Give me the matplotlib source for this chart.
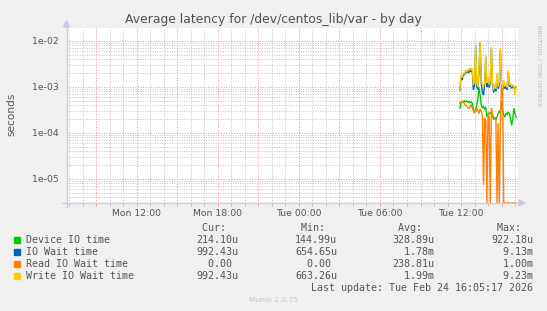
import matplotlib
matplotlib.use("Agg")
import matplotlib.pyplot as plt
import matplotlib.dates as mdates
import matplotlib.ticker as mticker
from matplotlib.lines import Line2D
from matplotlib.patches import Polygon, Rectangle
from datetime import datetime, timedelta
import numpy as np

# ---------------------------------------------------------------- data
step_start = datetime(2026, 2, 24, 11, 55)
n_steps = 51
times = [step_start + timedelta(minutes=5 * i) for i in range(n_steps)]

device_io = [3.4e-4, 4.6e-4, 4.8e-4, 4.5e-4, 5.0e-4, 4.7e-4, 4.9e-4, 4.6e-4, 4.8e-4, 4.5e-4,
             4.7e-4, 4.4e-4, 3.3e-4, 2.7e-4, 3.0e-4, 4.2e-4, 5.5e-4, 9.2218e-4, 6.5e-4, 4.0e-4,
             3.4e-4, 3.8e-4, 3.2e-4, 3.6e-4, 2.2e-4, 2.5e-4, 2.7e-4, 2.6e-4, 2.8e-4, 2.4e-4,
             1.9e-4, 2.2e-4, 1.9e-4, 2.2e-4, 2.6e-4, 3.0e-4, 2.7e-4, 4.7e-4, 3.0e-4, 2.4e-4,
             2.2e-4, 2.7e-4, 2.5e-4, 2.8e-4, 2.6e-4, 2.0e-4, 1.4499e-4, 2.0e-4, 3.4e-4, 2.6e-4,
             2.141e-4]

io_wait = [8.3e-4, 1.7e-3, 1.4e-3, 1.9e-3, 1.8e-3, 2.1e-3, 2.0e-3, 2.2e-3, 2.0e-3, 2.4e-3,
           2.1e-3, 2.3e-3, 8.5e-4, 1.1e-3, 7.6e-3, 1.0e-3, 8.8e-4, 2.2e-3, 9.13e-3, 1.2e-3,
           7.3e-4, 6.5465e-4, 1.1e-3, 4.5e-3, 1.0e-3, 1.4e-3, 9.5e-4, 1.2e-3, 6.8e-3, 1.1e-3,
           7.5e-4, 9.5e-4, 8.0e-4, 1.8e-3, 9.0e-4, 1.1e-3, 6.3e-3, 1.0e-3, 8.5e-4, 1.2e-3,
           9.0e-4, 1.1e-3, 8.5e-4, 2.1e-3, 1.0e-3, 1.1e-3, 9.2e-4, 1.0e-3, 9.6e-4, 9.0e-4,
           9.9243e-4]

read_io_wait = [4.4e-4, 4.8e-4, 4.6e-4, 4.9e-4, 4.2e-4, 4.0e-4, 3.9e-4, 3.5e-4, 3.4e-4, 3.6e-4,
                4.1e-4, 3.5e-4, 3.0e-4, 2.7e-4, 2.9e-4, 3.4e-4, 3.1e-4, 2.6e-4, 3.3e-4, 3.0e-4,
                2.4e-4, 7.3e-6, 2.1e-4, 1.8e-4, 0.0, 2.7e-4, 2.2e-4, 0.0, 3.4e-4, 2.5e-4,
                2.0e-4, 2.1e-4, 2.1e-4, 0.0, 1.6e-4, 0.0, 1.5e-4, 1.0e-3, 8.0e-4, 0.0,
                0.0, 0.0, 0.0, 0.0, 0.0, 0.0, 0.0, 0.0, 0.0, 0.0,
                0.0]

write_io_wait = [8.5e-4, 1.8e-3, 1.6e-3, 2.0e-3, 1.9e-3, 2.3e-3, 2.1e-3, 2.4e-3, 2.2e-3, 2.6e-3,
                 2.3e-3, 2.5e-3, 1.1e-3, 1.3e-3, 8.1e-3, 1.2e-3, 1.0e-3, 2.5e-3, 9.23e-3, 1.4e-3,
                 1.1e-3, 1.0e-3, 1.3e-3, 4.9e-3, 1.2e-3, 1.6e-3, 1.1e-3, 1.4e-3, 7.4e-3, 1.3e-3,
                 8.5e-4, 1.1e-3, 9.0e-4, 2.0e-3, 1.0e-3, 1.3e-3, 6.9e-3, 1.2e-3, 9.5e-4, 1.4e-3,
                 1.0e-3, 1.2e-3, 9.5e-4, 2.3e-3, 1.1e-3, 1.2e-3, 1.0e-3, 1.1e-3, 1.05e-3, 6.6326e-4,
                 9.9243e-4]

series_names = ["Device IO time", "IO Wait time", "Read IO Wait time", "Write IO Wait time"]
series_colors = ["#00CC00", "#0066B3", "#FF8000", "#FFCC00"]
series_values = [device_io, io_wait, read_io_wait, write_io_wait]

stat_cur = ["214.10u", "992.43u", "  0.00 ", "992.43u"]
stat_min = ["144.99u", "654.65u", "  0.00 ", "663.26u"]
stat_avg = ["328.89u", "  1.78m", "238.81u", "  1.99m"]
stat_max = ["922.18u", "  9.13m", "  1.00m", "  9.23m"]

y_ticks = [1e-5, 1e-4, 1e-3, 1e-2]
y_tick_labels = ["1e-05", "1e-04", "1e-03", "1e-02"]

title = "Average latency for /dev/centos_lib/var - by day"
last_update = "Last update: Tue Feb 24 16:05:17 2026"

# ---------------------------------------------------------------- layout
W, H = 547, 311
BG = "#F0F0F0"
TXT = "#555555"
MAJ = "#EE9C9C"
MIN = "#C4C4C4"
AXIS = "#C8C8F0"

def fx(x):
    return x / W

def fy(y):
    return 1 - y / H

fig = plt.figure(figsize=(W / 100, H / 100), dpi=100, facecolor=BG)
px_l, px_r, px_t, px_b = 66.5, 517.5, 28, 203
ax = fig.add_axes([fx(px_l), fy(px_b), fx(px_r) - fx(px_l), fy(px_t) - fy(px_b)])
ax.set_facecolor("white")
for s in ax.spines.values():
    s.set_visible(False)

ymin, ymax = 2.97e-6, 1.89e-2
ax.set_yscale("log")
ax.set_ylim(ymin, ymax)
ax.set_xlim(datetime(2026, 2, 23, 6, 47), datetime(2026, 2, 24, 16, 11))

# grid
ax.xaxis.set_major_locator(mdates.HourLocator(byhour=range(0, 24, 3)))
ax.xaxis.set_minor_locator(mdates.HourLocator())
ax.xaxis.set_major_formatter(mticker.FuncFormatter(
    lambda v, p: mdates.num2date(v).strftime("%a %H:%M") if mdates.num2date(v).hour % 6 == 0 else ""))
ax.yaxis.set_major_locator(mticker.FixedLocator(y_ticks))
ax.yaxis.set_major_formatter(mticker.FixedFormatter(y_tick_labels))
ax.yaxis.set_minor_locator(mticker.LogLocator(base=10, subs=np.arange(2, 10)))
ax.yaxis.set_minor_formatter(mticker.NullFormatter())

ax.grid(True, which="minor", color=MIN, linestyle=(0, (1, 1.5)), linewidth=0.7)
ax.grid(True, which="major", color=MAJ, linestyle=(0, (1, 1.5)), linewidth=0.75)
ax.set_axisbelow(True)

ax.tick_params(axis="x", which="major", length=2.5, width=0.7, color=MAJ, pad=1.5,
               labelsize=6.7, labelcolor=TXT)
ax.tick_params(axis="x", which="minor", length=2.5, width=0.7, color=MIN)
ax.tick_params(axis="y", which="both", length=0, pad=5.5, labelsize=6.7, labelcolor=TXT)

# series
for vals, col in zip(series_values, series_colors):
    shown = np.clip(np.asarray(vals, dtype=float), ymin, None)
    ax.plot(times, shown, color=col, linewidth=1.0, solid_joinstyle="miter", zorder=3,
            clip_on=False)

# axis lines with arrows
fig.add_artist(Line2D([fx(62), fx(520)], [fy(px_b), fy(px_b)], color=AXIS, lw=1.0,
                      transform=fig.transFigure))
fig.add_artist(Line2D([fx(px_l), fx(px_l)], [fy(207), fy(24)], color=AXIS, lw=1.0,
                      transform=fig.transFigure))
fig.add_artist(Polygon([[fx(519), fy(px_b - 3)], [fx(519), fy(px_b + 3)], [fx(525), fy(px_b)]],
                       closed=True, color=AXIS, transform=fig.transFigure))
fig.add_artist(Polygon([[fx(px_l - 3), fy(27)], [fx(px_l + 3), fy(27)], [fx(px_l), fy(21)]],
                       closed=True, color=AXIS, transform=fig.transFigure))

# texts
fig.text(fx(273.5), fy(19.5), title, ha="center", va="center", fontsize=8.9, color="#505050")
fig.text(fx(11.5), fy(114), "seconds", ha="center", va="center", rotation=90, fontsize=7.6,
         color=TXT)
fig.text(fx(539), fy(66), "RRDTOOL / TOBI OETIKER", ha="center", va="center", rotation=270,
         fontsize=4.6, color="#BBBBBB")

mono = "DejaVu Sans Mono"
fsz = 7.2
row_y = [240, 252, 264, 276]
col_right = [238.5, 337, 434.5, 533]
headers = ["Cur:", "Min:", "Avg:", "Max:"]
for cx, hd in zip(col_right, headers):
    fig.text(fx(cx), fy(228), hd + "  ", ha="right", va="center", family=mono, fontsize=fsz,
             color=TXT)
for i, (name, col) in enumerate(zip(series_names, series_colors)):
    y = row_y[i]
    fig.add_artist(Rectangle((fx(14), fy(y + 3)), 6 / W, 6 / H, color=col,
                             transform=fig.transFigure))
    fig.text(fx(26), fy(y), name, ha="left", va="center", family=mono, fontsize=fsz, color=TXT)
    for cx, vals in zip(col_right, [stat_cur, stat_min, stat_avg, stat_max]):
        fig.text(fx(cx), fy(y), vals[i], ha="right", va="center", family=mono, fontsize=fsz,
                 color=TXT)
fig.text(fx(533), fy(288), last_update, ha="right", va="center", family=mono, fontsize=fsz,
         color=TXT)
fig.text(fx(273.5), fy(299.5), "Munin 2.0.75", ha="center", va="center", fontsize=5.4,
         color="#C8C8C8")

fig.savefig("out.png", dpi=100, facecolor=BG)
